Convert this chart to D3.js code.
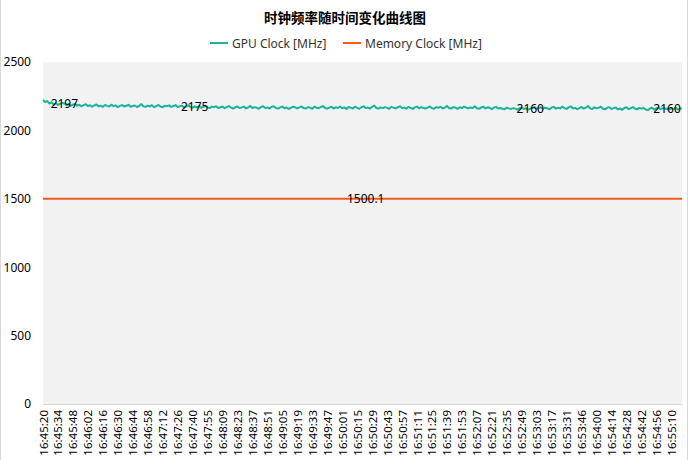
<!DOCTYPE html>
<html><head><meta charset="utf-8">
<script src="https://cdn.jsdelivr.net/npm/d3@7"></script>
<style>
html,body{margin:0;padding:0;background:#fff;}
svg{display:block;font-family:"Noto Sans","Noto Sans CJK SC",sans-serif;}
</style></head>
<body>
<svg id="chart" width="690" height="460"></svg>
<script>
const title = "时钟频率随时间变化曲线图";
const seriesNames = ["GPU Clock [MHz]", "Memory Clock [MHz]"];
const seriesColors = ["#1bb39a", "#f25a1e"];
const totalPoints = 599;
const tickLabels = ["16:45:20","16:45:34","16:45:48","16:46:02","16:46:16","16:46:30","16:46:44","16:46:58","16:47:12","16:47:26","16:47:40","16:47:55","16:48:09","16:48:23","16:48:37","16:48:51","16:49:05","16:49:19","16:49:33","16:49:47","16:50:01","16:50:15","16:50:29","16:50:43","16:50:57","16:51:11","16:51:25","16:51:39","16:51:53","16:52:07","16:52:21","16:52:35","16:52:49","16:53:03","16:53:17","16:53:31","16:53:46","16:54:00","16:54:14","16:54:28","16:54:42","16:54:56","16:55:10"];
const tickStep = 14;
const yTicks = [0, 500, 1000, 1500, 2000, 2500];
const gpuStep = 2;
const gpuValues = [
2222,2208,2214,2196,2205,2190,2198,2186,2194,2201,2197,2183,2192,2179,2188,2194,2181,2187,2176,2185,
2191,2178,2184,2173,2182,2190,2176,2181,2172,2186,2179,2174,2188,2177,2183,2170,2179,2185,2175,2180,
2187,2173,2178,2182,2171,2179,2192,2176,2172,2181,2175,2184,2170,2178,2186,2174,2169,2180,2177,2183,
2172,2178,2185,2170,2176,2181,2168,2175,2183,2171,2166,2175,2169,2178,2165,2172,2180,2167,2163,2174,
2170,2177,2164,2169,2175,2162,2171,2178,2166,2160,2169,2175,2163,2168,2174,2161,2167,2179,2164,2170,
2166,2158,2171,2176,2163,2168,2160,2172,2177,2164,2159,2168,2174,2162,2167,2157,2165,2173,2169,2161,
2168,2175,2163,2160,2170,2166,2158,2174,2165,2162,2171,2178,2164,2159,2167,2172,2161,2169,2164,2175,
2162,2168,2157,2171,2166,2160,2173,2165,2158,2169,2176,2163,2167,2160,2172,2181,2164,2159,2168,2163,
2170,2165,2158,2172,2166,2161,2169,2176,2163,2167,2159,2171,2165,2157,2168,2174,2162,2170,2164,2160,
2167,2175,2163,2158,2170,2165,2173,2160,2166,2179,2164,2159,2171,2166,2157,2169,2163,2174,2167,2161,
2168,2164,2176,2162,2158,2167,2173,2161,2169,2165,2156,2166,2172,2160,2164,2158,2155,2166,2161,2157,
2163,2159,2152,2161,2168,2156,2162,2151,2160,2165,2171,2158,2164,2170,2157,2166,2162,2154,2167,2172,
2159,2166,2161,2174,2163,2157,2168,2176,2160,2165,2155,2163,2171,2159,2166,2178,2162,2156,2169,2161,
2165,2173,2158,2154,2166,2170,2157,2163,2168,2153,2161,2150,2164,2169,2156,2162,2171,2158,2154,2165,
2159,2164,2153,2148,2160,2166,2152,2161,2167,2155,2163,2158,2160,2151,2162,2156,2165,2152,2160,2161
];
const memStep = 26;
const memValues = [1500.1,1500.1,1500.1,1500.1,1500.1,1500.1,1500.1,1500.1,1500.1,1500.1,1500.1,1500.1,1500.1,1500.1,1500.1,1500.1,1500.1,1500.1,1500.1,1500.1,1500.1,1500.1,1500.1,1500.1];
const gpuLabelIdx = [20, 142, 456, 584];
const memLabelIdx = [302];

const svg = d3.select("#chart");
const W = 690, H = 460;
const m = {left: 43, right: 8, top: 62, bottom: 56};
const x = d3.scaleLinear().domain([0, totalPoints - 1]).range([m.left, W - m.right]);
const y = d3.scaleLinear().domain([0, 2500]).range([H - m.bottom, m.top]);

// outer frame
svg.append("line").attr("x1",0.5).attr("x2",0.5).attr("y1",0).attr("y2",H).attr("stroke","#d9d9d9");
svg.append("line").attr("x1",687.5).attr("x2",687.5).attr("y1",0).attr("y2",H).attr("stroke","#d9d9d9");

// title
svg.append("text").attr("x", 345).attr("y", 17).attr("text-anchor","middle")
  .attr("dominant-baseline","central").attr("font-family","'Noto Sans CJK SC',sans-serif")
  .attr("font-weight","bold").attr("font-size",13.5).attr("fill","#000").text(title);

// legend
const legendItems = [{x: 210}, {x: 343}];
seriesNames.forEach((n, i) => {
  const g = svg.append("g").attr("transform", `translate(${legendItems[i].x},43)`);
  g.append("line").attr("x1",0).attr("x2",18).attr("y1",0).attr("y2",0)
    .attr("stroke",seriesColors[i]).attr("stroke-width",2);
  g.append("text").attr("x",22).attr("y",0).attr("dominant-baseline","central")
    .attr("font-size",12).attr("fill","#333").text(n);
});

// plot background
svg.append("rect").attr("x", m.left).attr("y", m.top)
  .attr("width", W - m.right - m.left).attr("height", H - m.bottom - m.top).attr("fill","#f2f2f2");

// y axis labels
const yAxis = d3.axisLeft(y).tickValues(yTicks).tickSize(0).tickPadding(12).tickFormat(d3.format("d"));
const gy = svg.append("g").attr("transform",`translate(${m.left},0)`).call(yAxis);
gy.select(".domain").remove();
gy.selectAll("text").attr("font-size",12).attr("fill","#000").attr("font-family","'Noto Sans',sans-serif");

// x axis
const xTickVals = tickLabels.map((t, i) => i * tickStep);
const xAxis = d3.axisBottom(x).tickValues(xTickVals).tickSize(0)
  .tickFormat((d, i) => tickLabels[i]);
const gx = svg.append("g").attr("transform",`translate(0,${H - m.bottom})`).call(xAxis);
gx.select(".domain").attr("stroke","#d6d6d6");
gx.selectAll("text").attr("font-size",11.5).attr("fill","#000")
  .attr("font-family","'Noto Sans',sans-serif")
  .attr("transform","rotate(-90)").attr("text-anchor","end")
  .attr("x",-6).attr("y",0).attr("dy","0.35em");

// lines
const gpuData = gpuValues.map((v, i) => [i * gpuStep, v]);
const memData = memValues.map((v, i) => [i * memStep, v]);
const line = d3.line().x(d => x(d[0])).y(d => y(d[1]));
svg.append("path").datum(memData).attr("d", line).attr("fill","none")
  .attr("stroke", seriesColors[1]).attr("stroke-width",2);
svg.append("path").datum(gpuData).attr("d", line).attr("fill","none")
  .attr("stroke", seriesColors[0]).attr("stroke-width",2).attr("stroke-linejoin","round");

// data labels
const gpuLookup = new Map(gpuData.map(d => [d[0], d[1]]));
gpuLabelIdx.forEach(idx => {
  const v = gpuLookup.get(idx);
  svg.append("text").attr("x", x(idx)).attr("y", y(v)).attr("text-anchor","middle")
    .attr("dominant-baseline","central").attr("font-size",12).attr("fill","#000").text(v);
});
memLabelIdx.forEach(idx => {
  const v = memValues[0];
  svg.append("text").attr("x", x(idx)).attr("y", y(v)).attr("text-anchor","middle")
    .attr("dominant-baseline","central").attr("font-size",12).attr("fill","#000").text(v.toFixed(1));
});
</script>
</body></html>
